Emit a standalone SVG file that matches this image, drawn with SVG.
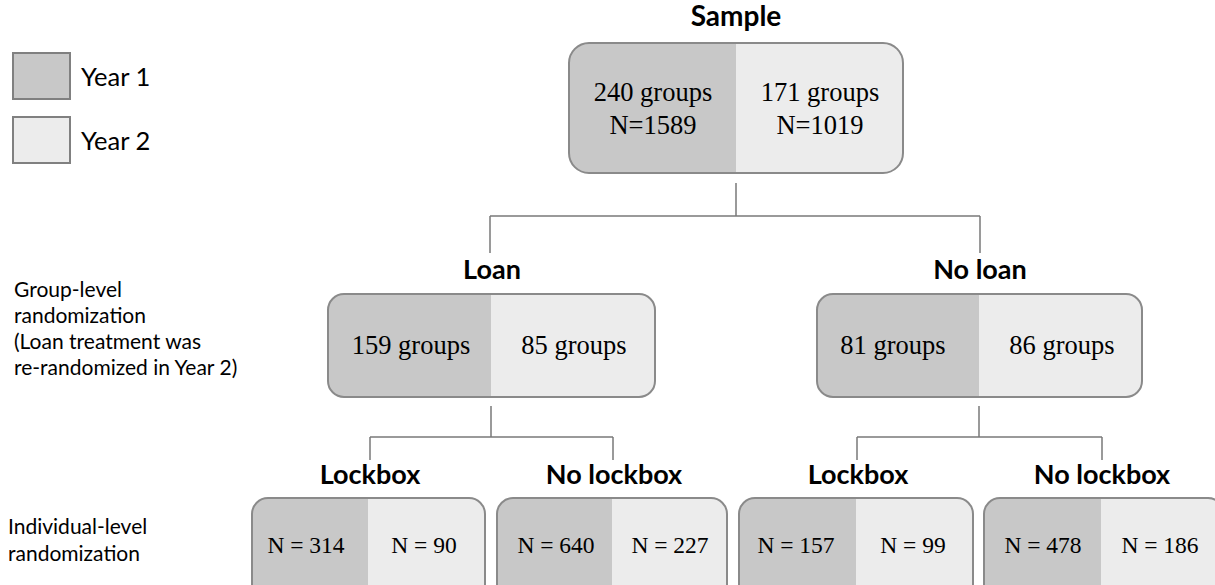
<svg xmlns="http://www.w3.org/2000/svg" width="1215" height="585" viewBox="0 0 1215 585">
<style>
.y1{fill:#c8c8c8}
.y2{fill:#ececec}
.bd{fill:none;stroke:#8a8a8a;stroke-width:2}
.hd{font-family:Lato,"Open Sans",sans-serif;font-weight:bold;font-size:27px;fill:#000;text-anchor:middle}
.lb{font-family:Lato,"Open Sans",sans-serif;font-size:21px;fill:#000}
.lg{font-family:Lato,"Open Sans",sans-serif;font-size:25.5px;fill:#000}
.nm{font-family:"Liberation Serif","Times New Roman",serif;font-size:26.5px;fill:#000;text-anchor:middle}
.ns{font-family:"Liberation Serif","Times New Roman",serif;font-size:23.5px;fill:#000;text-anchor:middle}
.cn{fill:none;stroke:#7a7a7a;stroke-width:1.5}
</style>
<defs>
<clipPath id="cS"><rect x="569" y="43" width="334" height="130" rx="20"/></clipPath>
<clipPath id="cL"><rect x="328" y="294" width="327" height="103" rx="16"/></clipPath>
<clipPath id="cN"><rect x="817" y="294" width="325" height="103" rx="16"/></clipPath>
<clipPath id="c1"><rect x="252" y="498" width="233" height="110" rx="16"/></clipPath>
<clipPath id="c2"><rect x="497" y="498" width="230" height="110" rx="16"/></clipPath>
<clipPath id="c3"><rect x="739" y="498" width="234" height="110" rx="16"/></clipPath>
<clipPath id="c4"><rect x="984" y="498" width="240" height="110" rx="16"/></clipPath>
</defs>

<g id="legend">
<rect x="13" y="53" width="57" height="46" class="y1" stroke="#808080" stroke-width="2"/>
<text x="81" y="86" class="lg">Year 1</text>
<rect x="13" y="117" width="57" height="46" class="y2" stroke="#808080" stroke-width="2"/>
<text x="81" y="150" class="lg">Year 2</text>
</g>

<g id="side-labels">
<text class="lb"><tspan x="14" y="297">Group-level</tspan><tspan x="14" y="323">randomization</tspan><tspan x="14" y="349">(Loan treatment was</tspan><tspan x="14" y="375">re-randomized in Year 2)</tspan></text>
<text class="lb"><tspan x="8" y="534">Individual-level</tspan><tspan x="8" y="561">randomization</tspan></text>
</g>

<g id="connectors">
<path class="cn" d="M736 183V216M490 216H980M490 216V253M980 216V253"/>
<path class="cn" d="M491 406V437M370 437H613M370 437V460M613 437V460"/>
<path class="cn" d="M979 406V437M857 437H1102M857 437V460M1102 437V460"/>
</g>

<g id="sample">
<text x="736" y="26" class="hd" style="font-size:28px">Sample</text>
<g clip-path="url(#cS)"><rect x="569" y="43" width="167" height="130" class="y1"/><rect x="736" y="43" width="167" height="130" class="y2"/></g>
<rect x="569" y="43" width="334" height="130" rx="20" class="bd"/>
<text x="653" y="101" class="nm">240 groups</text>
<text x="653" y="134" class="nm">N=1589</text>
<text x="820" y="101" class="nm">171 groups</text>
<text x="820" y="134" class="nm">N=1019</text>
</g>

<g id="loan">
<text x="492" y="279" class="hd">Loan</text>
<g clip-path="url(#cL)"><rect x="328" y="294" width="163" height="103" class="y1"/><rect x="491" y="294" width="164" height="103" class="y2"/></g>
<rect x="328" y="294" width="327" height="103" rx="16" class="bd"/>
<text x="411" y="354" class="nm">159 groups</text>
<text x="574" y="354" class="nm">85 groups</text>
</g>

<g id="noloan">
<text x="980" y="279" class="hd">No loan</text>
<g clip-path="url(#cN)"><rect x="817" y="294" width="162" height="103" class="y1"/><rect x="979" y="294" width="163" height="103" class="y2"/></g>
<rect x="817" y="294" width="325" height="103" rx="16" class="bd"/>
<text x="893" y="354" class="nm">81 groups</text>
<text x="1062" y="354" class="nm">86 groups</text>
</g>

<g id="loan-lockbox">
<text x="370" y="484" class="hd">Lockbox</text>
<g clip-path="url(#c1)"><rect x="252" y="498" width="116" height="110" class="y1"/><rect x="368" y="498" width="117" height="110" class="y2"/></g>
<rect x="252" y="498" width="233" height="110" rx="16" class="bd"/>
<text x="306" y="553" class="ns">N = 314</text>
<text x="424" y="553" class="ns">N = 90</text>
</g>

<g id="loan-nolockbox">
<text x="614" y="484" class="hd">No lockbox</text>
<g clip-path="url(#c2)"><rect x="497" y="498" width="115" height="110" class="y1"/><rect x="612" y="498" width="115" height="110" class="y2"/></g>
<rect x="497" y="498" width="230" height="110" rx="16" class="bd"/>
<text x="556" y="553" class="ns">N = 640</text>
<text x="670" y="553" class="ns">N = 227</text>
</g>

<g id="noloan-lockbox">
<text x="858" y="484" class="hd">Lockbox</text>
<g clip-path="url(#c3)"><rect x="739" y="498" width="117" height="110" class="y1"/><rect x="856" y="498" width="117" height="110" class="y2"/></g>
<rect x="739" y="498" width="234" height="110" rx="16" class="bd"/>
<text x="796" y="553" class="ns">N = 157</text>
<text x="913" y="553" class="ns">N = 99</text>
</g>

<g id="noloan-nolockbox">
<text x="1102" y="484" class="hd">No lockbox</text>
<g clip-path="url(#c4)"><rect x="984" y="498" width="117" height="110" class="y1"/><rect x="1101" y="498" width="123" height="110" class="y2"/></g>
<rect x="984" y="498" width="240" height="110" rx="16" class="bd"/>
<text x="1043" y="553" class="ns">N = 478</text>
<text x="1160" y="553" class="ns">N = 186</text>
</g>
</svg>
